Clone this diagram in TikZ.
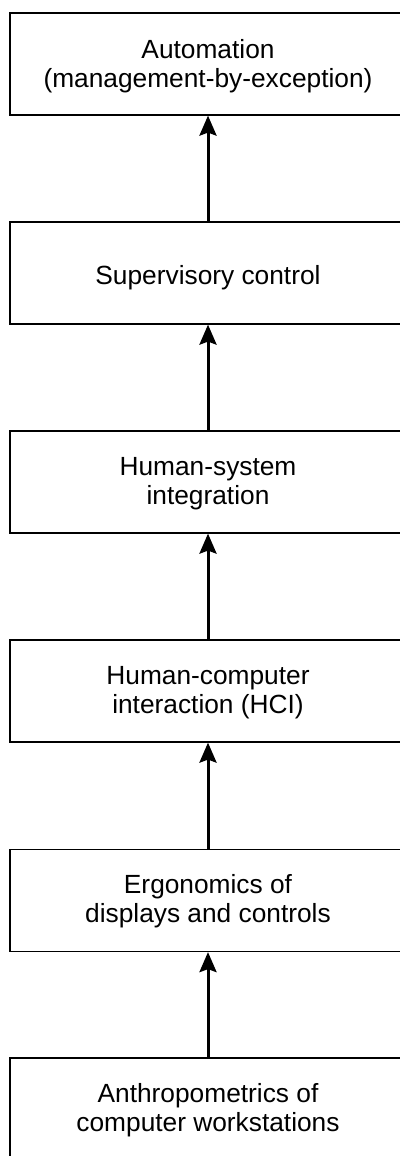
\documentclass[tikz,border=0pt]{standalone}
\usepackage{fontspec}
\setmainfont{Liberation Sans}
\usetikzlibrary{arrows.meta}
\begin{document}
\begin{tikzpicture}[x=1pt,y=1pt,
  box/.style={draw, line width=1.2pt, minimum width=396pt, minimum height=102pt, inner sep=0pt},
  txt/.style={align=center, inner sep=0pt, font=\fontsize{26.3}{29}\selectfont},
  up/.style={-{Stealth[length=20pt,width=17pt,inset=3pt]}, line width=3pt}]
\useasboundingbox (0,0) rectangle (399,-1156);
\node[box] (a) at (208,-64) {};
\node[box] (b) at (208,-273) {};
\node[box] (c) at (208,-482) {};
\node[box] (d) at (208,-691) {};
\node[box] (e) at (208,-900.5) {};
\node[box] (f) at (208,-1109) {};
\node[txt, yshift=-2pt] (at) at (a) {Automation\\(management-by-exception)};
\node[txt, yshift=-5pt] (bt) at (b) {Supervisory control};
\node[txt, yshift=-2pt] (ct) at (c) {Human-system\\integration};
\node[txt, yshift=-2pt] (dt) at (d) {Human-computer\\interaction (HCI)};
\node[txt, yshift=-1pt] (et) at (e) {Ergonomics of\\displays and controls};
\node[txt, yshift=-1pt] (ft) at (f) {Anthropometrics of\\computer workstations};
\draw[up] (b.north) -- (a.south);
\draw[up] (c.north) -- (b.south);
\draw[up] (d.north) -- (c.south);
\draw[up] (e.north) -- (d.south);
\draw[up] (f.north) -- (e.south);
\end{tikzpicture}
\end{document}
